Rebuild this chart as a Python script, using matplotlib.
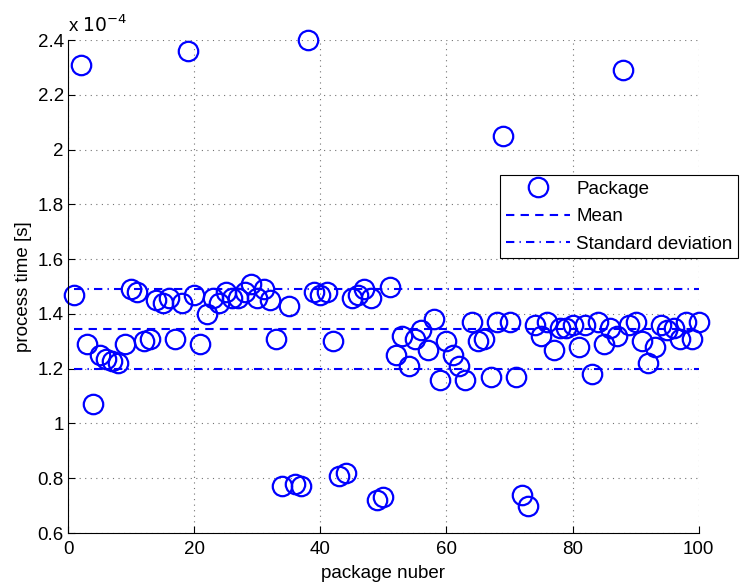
import numpy as np
import matplotlib
matplotlib.use("Agg")
from matplotlib import pyplot as plt

# process time per package, in units of 1e-4 s
package = np.arange(1, 101)
process_time = [
    1.47, 2.31, 1.29, 1.07, 1.25, 1.235, 1.23, 1.22, 1.29, 1.49,
    1.48, 1.30, 1.31, 1.45, 1.44, 1.46, 1.31, 1.44, 2.36, 1.47,
    1.29, 1.40, 1.46, 1.44, 1.48, 1.46, 1.46, 1.48, 1.51, 1.46,
    1.49, 1.45, 1.31, 0.77, 1.43, 0.78, 0.77, 2.40, 1.48, 1.47,
    1.48, 1.30, 0.81, 0.82, 1.46, 1.47, 1.49, 1.46, 0.72, 0.73,
    1.50, 1.25, 1.32, 1.21, 1.31, 1.34, 1.27, 1.38, 1.16, 1.30,
    1.25, 1.21, 1.16, 1.37, 1.30, 1.31, 1.17, 1.37, 2.05, 1.37,
    1.17, 0.74, 0.70, 1.36, 1.32, 1.37, 1.27, 1.35, 1.35, 1.36,
    1.28, 1.36, 1.18, 1.37, 1.29, 1.35, 1.32, 2.29, 1.36, 1.37,
    1.30, 1.22, 1.28, 1.36, 1.34, 1.35, 1.31, 1.37, 1.31, 1.37,
]
mean_value = 1.345
std_upper = 1.49
std_lower = 1.20

plt.rcParams["font.family"] = ["Liberation Sans", "DejaVu Sans"]
plt.rcParams["font.size"] = 13.5

fig = plt.figure(figsize=(7.5, 5.84), dpi=100)
ax = fig.add_axes([0.0907, 0.0873, 0.841, 0.844])

ax.plot(package, process_time, "o", color="blue", markerfacecolor="none",
        markersize=14, markeredgewidth=1.6, label="Package", clip_on=False)
ax.plot([package[0], package[-1]], [mean_value, mean_value], color="blue",
        linestyle=(0, (4, 3)), linewidth=1.5, label="Mean")
ax.plot([package[0], package[-1]], [std_upper, std_upper], color="blue",
        linestyle=(0, (4, 2.5, 0.6, 2.5)), linewidth=1.5, label="Standard deviation")
ax.plot([package[0], package[-1]], [std_lower, std_lower], color="blue",
        linestyle=(0, (4, 2.5, 0.6, 2.5)), linewidth=1.5)

ax.set_xlim(0, 100)
ax.set_ylim(0.6, 2.4)
ax.set_xticks(np.arange(0, 101, 20))
ax.set_yticks(np.arange(0.6, 2.41, 0.2))
ax.set_yticklabels(["0.6", "0.8", "1", "1.2", "1.4", "1.6", "1.8", "2", "2.2", "2.4"])
ax.tick_params(direction="in", length=5, width=0.8)
ax.tick_params(axis="x", pad=6)
ax.tick_params(axis="y", pad=3)
ax.grid(True, linestyle=(0, (1, 4)), color="0.45", linewidth=0.8)
ax.spines["top"].set_visible(False)
ax.spines["right"].set_visible(False)

ax.set_xlabel("package nuber", labelpad=5)
ax.set_ylabel("process time [s]", labelpad=4)
ax.text(0, 1.008, r"x $10^{-4}$", transform=ax.transAxes, ha="left", va="bottom")

leg = ax.legend(loc="upper left", bbox_to_anchor=(0.667, 0.700),
                bbox_transform=fig.transFigure, frameon=True,
                fancybox=False, edgecolor="black", framealpha=1, borderpad=0.3,
                handlelength=3.4, handletextpad=0.35, labelspacing=0.55,
                borderaxespad=0)
leg.get_frame().set_linewidth(0.8)
leg.set_clip_on(False)

fig.savefig("out.png", dpi=100)
